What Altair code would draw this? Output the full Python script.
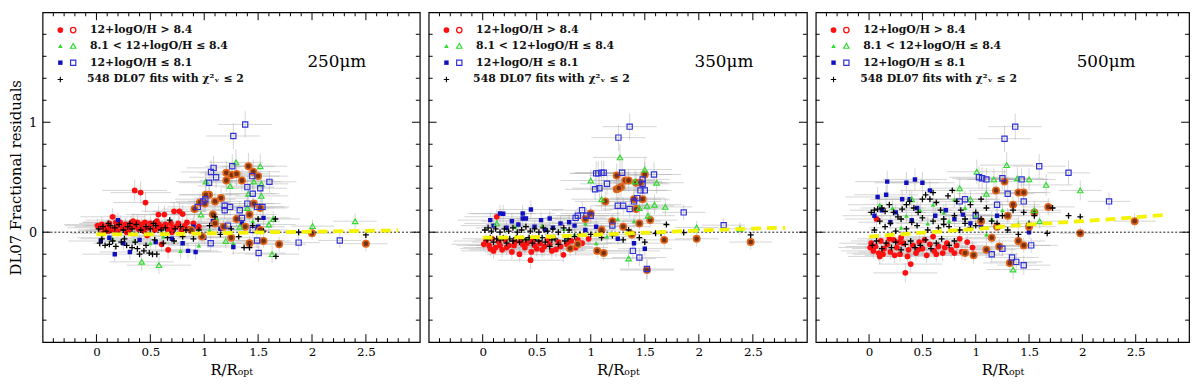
import altair as alt
import pandas as pd
import numpy as np

# ---------------- axis / text content ----------------
X_DOMAIN = [-0.5, 3.0]
Y_DOMAIN = [-1.0, 2.0]
X_LABELS = [0, 0.5, 1, 1.5, 2, 2.5]
Y_LABELS = [0, 1]
PANEL_TITLES = ["250\u03bcm", "350\u03bcm", "500\u03bcm"]
LEGEND_TEXT = ["12+logO/H > 8.4",
               "8.1 < 12+logO/H \u2264  8.4",
               "12+logO/H \u2264  8.1",
               "548  DL07 fits with \u03c7\u00b2\u1d65 \u2264 2"]
X_TITLE = "R/R\u2092\u209a\u209c"
Y_TITLE = "DL07  Fractional  residuals"

# running trend (yellow dashed)
FIT_X = [0.0, 0.5, 1.0, 1.5, 2.0, 2.5, 2.8]
P1_FIT = [-0.02, -0.02, -0.012, -0.002, 0.005, 0.012, 0.016]
P2_FIT = [-0.05, -0.045, -0.025, -0.005, 0.015, 0.033, 0.04]
P3_FIT = [-0.04, -0.005, 0.03, 0.07, 0.10, 0.135, 0.16]

# ---------------- panel 1 : 250 micron  (x, y, xerr, yerr) ----------------
P1_RED_F = [(0.03,0.04,.30,.06),(0.05,0.07,.35,.07),(0.08,0.02,.25,.05),(0.10,0.05,.30,.06),(0.12,0.08,.28,.07),
            (0.15,0.14,.30,.08),(0.16,0.03,.22,.05),(0.19,0.06,.30,.06),(0.22,0.09,.35,.07),(0.24,0.04,.20,.05),
            (0.27,0.07,.30,.06),(0.30,0.02,.25,.05),(0.32,0.08,.30,.07),(0.355,0.38,.30,.10),(0.41,0.36,.28,.10),
            (0.455,0.27,.30,.09),(0.36,0.05,.25,.06),(0.39,0.03,.30,.05),(0.42,0.07,.28,.06),(0.45,0.09,.25,.07),
            (0.48,0.04,.30,.05),(0.51,0.06,.25,.06),(0.54,0.02,.30,.05),(0.575,0.16,.30,.08),(0.58,0.07,.28,.06),
            (0.61,0.05,.25,.06),(0.63,0.16,.30,.08),(0.66,0.03,.30,.05),(0.69,0.08,.25,.07),(0.72,0.19,.30,.08),
            (0.74,0.05,.28,.06),(0.77,0.19,.25,.08),(0.80,0.165,.30,.08),(0.82,0.06,.25,.06),(0.665,-0.16,.25,.08),
            (0.605,-0.11,.25,.07),(0.20,0.01,.30,.05),(0.28,0.00,.25,.05),(0.44,0.01,.30,.05),(0.70,0.00,.25,.05),
            (0.86,0.03,.30,.06),(0.90,0.08,.28,.07),(0.95,0.05,.30,.06),(0.06,-0.01,.30,.05),(0.14,0.02,.25,.05),
            (0.34,0.10,.28,.07),(0.56,0.10,.30,.07),(0.47,-0.03,.25,.05),(0.01,0.06,.30,.06),(0.11,0.01,.28,.05),
            (0.18,0.09,.30,.07),(0.26,0.05,.28,.06),(0.31,0.06,.30,.06),(0.38,0.09,.28,.07),(0.43,0.04,.30,.06),
            (0.50,0.08,.28,.07),(0.57,0.04,.30,.06),(0.64,0.07,.28,.06),(0.71,0.04,.30,.06),(0.76,0.08,.28,.07),
            (0.79,0.02,.30,.05),(0.84,0.09,.28,.07)]
P1_RED_O = [(1.41,0.60,.25,.12),(1.205,0.54,.25,.11),(1.256,0.52,.25,.11),(1.30,0.53,.30,.11),(1.455,0.55,.25,.11),
            (1.50,0.51,.28,.11),(1.205,0.47,.25,.10),(1.35,0.47,.30,.10),(1.045,0.34,.28,.09),(1.015,0.34,.25,.09),
            (1.156,0.31,.25,.09),(0.96,0.27,.28,.08),(1.10,0.28,.25,.08),(1.005,0.26,.25,.08),(0.91,0.21,.30,.08),
            (1.46,0.26,.25,.09),(1.52,0.22,.25,.08),(1.08,0.16,.28,.07),(1.42,0.16,.25,.07),(1.695,-0.11,.25,.07),
            (2.00,-0.01,.20,.06),(2.50,-0.105,.20,.07),(1.42,-0.10,.25,.07),(1.30,0.12,.28,.07),(1.18,0.05,.25,.06),
            (1.52,0.02,.25,.06),(1.25,-0.05,.30,.06),(1.10,0.08,.25,.06),(0.98,-0.04,.28,.06),(1.38,0.05,.25,.06),
            (1.55,-0.08,.25,.06),(0.88,0.02,.30,.06)]
P1_GRN_F = [(0.78,-0.17,.28,.07),(1.12,0.12,.25,.06),(1.45,0.10,.25,.06),(0.35,-0.08,.30,.06),(0.95,-0.12,.28,.06),
            (1.27,-0.10,.25,.06),(0.62,-0.04,.30,.05),(1.05,0.02,.25,.05),(0.15,-0.06,.30,.05),(0.50,-0.10,.28,.06)]
P1_GRN_O = [(1.295,0.635,.25,.12),(1.52,0.60,.25,.11),(1.015,0.46,.28,.10),(1.46,0.46,.25,.10),(1.24,0.42,.30,.10),
            (1.53,0.44,.25,.10),(1.41,0.35,.25,.09),(1.53,0.33,.25,.09),(0.97,0.16,.28,.07),(1.40,0.22,.25,.08),
            (1.60,0.07,.25,.07),(1.64,0.12,.25,.07),(1.63,-0.20,.25,.08),(2.005,0.055,.20,.06),(2.40,0.10,.20,.07),
            (0.42,-0.27,.30,.08),(0.58,-0.30,.30,.08),(1.20,-0.08,.25,.06),(1.33,0.05,.28,.06)]
P1_BLU_F = [(0.04,-0.08,.30,.06),(0.17,-0.20,.30,.07),(0.31,-0.18,.28,.07),(0.20,0.11,.30,.07),(0.85,-0.17,.28,.07),
            (0.92,-0.18,.25,.07),(1.27,-0.135,.25,.07),(0.12,-0.05,.30,.06),(0.25,-0.10,.28,.06),(0.40,-0.07,.30,.06),
            (0.55,-0.09,.28,.06),(0.70,-0.06,.30,.06),(0.80,-0.10,.28,.06),(1.00,-0.05,.25,.06),(1.15,0.03,.25,.06),
            (1.35,0.08,.25,.06),(1.50,0.05,.25,.06),(1.55,0.13,.25,.07),(0.90,0.05,.28,.06),(1.08,0.10,.25,.06)]
P1_BLU_O = [(1.38,0.98,.25,.12),(1.27,0.875,.25,.12),(1.26,0.60,.25,.11),(1.087,0.585,.25,.11),(1.063,0.548,.28,.11),
            (1.446,0.51,.25,.11),(1.11,0.50,.25,.10),(1.605,0.458,.25,.10),(1.045,0.45,.28,.10),(1.40,0.41,.25,.10),
            (1.52,0.40,.25,.10),(1.45,0.35,.25,.09),(1.01,0.30,.28,.09),(0.99,0.28,.25,.09),(1.19,0.24,.25,.08),
            (0.94,0.23,.28,.08),(1.24,0.23,.25,.08),(1.40,0.26,.25,.08),(1.54,0.23,.25,.08),(1.49,0.23,.25,.08),
            (1.19,0.20,.25,.08),(1.33,0.20,.25,.08),(1.35,0.13,.25,.07),(1.876,-0.095,.20,.07),(2.258,-0.075,.20,.07),
            (1.505,-0.19,.25,.08),(1.49,-0.075,.25,.07),(1.06,-0.10,.28,.07),(1.22,0.06,.25,.06),(1.45,0.02,.25,.06)]
P1_CROSS = [(0.02,0.03),(0.06,0.05),(0.09,0.01),(0.13,0.06),(0.17,0.04),(0.21,0.07),(0.25,0.02),(0.29,0.05),
            (0.33,0.03),(0.37,0.07),(0.41,0.02),(0.46,0.05),(0.50,0.03),(0.55,0.06),(0.60,0.02),(0.64,0.04),
            (0.68,0.11),(0.73,0.03),(0.78,0.05),(0.83,0.02),(0.03,-0.10),(0.08,-0.12),(0.12,-0.11),(0.18,-0.13),
            (0.23,-0.09),(0.28,-0.12),(0.33,-0.14),(0.38,-0.15),(0.40,-0.20),(0.44,-0.17),(0.49,-0.19),(0.52,-0.20),
            (0.56,-0.20),(0.46,-0.12),(0.62,-0.10),(0.72,-0.08),(1.37,-0.14),(1.42,-0.14),(1.66,0.12),(1.665,-0.22),
            (1.876,0.0),(2.50,-0.025),(0.95,0.02),(1.05,0.06),(1.15,-0.02),(1.25,0.03),(1.32,-0.04),(1.45,0.06),
            (1.55,0.01),(0.90,-0.06),(1.10,0.14),(1.50,0.12),(0.05,-0.06),(0.15,-0.08),(0.26,-0.06),(0.36,-0.09),
            (0.54,-0.07),(0.66,-0.05),(0.80,-0.04),(0.11,0.08),(0.31,0.08),(0.53,0.08)]

# ---------------- panel 2 : 350 micron ----------------
P2_RED_F = [(0.03,-0.08,.30,.06),(0.06,-0.12,.30,.06),(0.09,-0.06,.28,.06),(0.12,-0.14,.30,.07),(0.15,-0.09,.25,.06),
            (0.18,-0.16,.30,.07),(0.21,-0.07,.28,.06),(0.24,-0.12,.30,.06),(0.27,-0.18,.25,.07),(0.30,-0.09,.30,.06),
            (0.34,-0.20,.30,.07),(0.37,-0.11,.28,.06),(0.39,-0.14,.30,.07),(0.443,-0.255,.30,.08),(0.46,-0.08,.28,.06),
            (0.50,-0.15,.30,.07),(0.53,-0.10,.25,.06),(0.57,-0.13,.30,.07),(0.60,-0.07,.28,.06),(0.64,-0.17,.30,.07),
            (0.678,-0.157,.28,.07),(0.70,-0.09,.30,.06),(0.747,-0.206,.28,.07),(0.78,-0.11,.30,.06),(0.82,-0.08,.28,.06),
            (0.86,-0.14,.30,.07),(0.92,-0.10,.28,.06),(0.98,-0.06,.25,.06),(0.10,-0.17,.30,.07),(0.45,-0.18,.28,.07),
            (0.13,0.14,.30,.07),(0.01,-0.11,.30,.06),(0.07,-0.15,.28,.07),(0.16,-0.12,.30,.06),(0.22,-0.14,.28,.07),
            (0.29,-0.12,.30,.06),(0.35,-0.08,.28,.06),(0.41,-0.10,.30,.06),(0.48,-0.12,.28,.06),(0.55,-0.16,.30,.07),
            (0.62,-0.11,.28,.06),(0.72,-0.13,.30,.07),(0.88,-0.07,.28,.06)]
P2_RED_O = [(1.24,0.515,.25,.11),(1.50,0.525,.25,.11),(1.32,0.47,.25,.10),(1.35,0.47,.25,.10),(1.24,0.39,.25,.10),
            (1.28,0.41,.25,.10),(1.26,0.40,.25,.10),(1.42,0.45,.25,.10),(1.46,0.45,.25,.10),(1.135,0.28,.28,.09),
            (1.40,0.30,.25,.09),(1.48,0.30,.25,.09),(1.42,0.21,.25,.08),(0.81,-0.148,.28,.07),(0.88,-0.11,.28,.07),
            (1.06,-0.17,.28,.07),(1.12,-0.19,.28,.07),(1.52,-0.345,.25,.09),(1.98,-0.06,.20,.07),(2.48,-0.09,.20,.07),
            (1.68,-0.07,.25,.07),(1.00,0.17,.28,.07),(0.95,0.12,.28,.07),(1.20,0.10,.25,.06),(1.30,0.05,.25,.06),
            (1.45,0.08,.25,.06),(1.10,0.02,.28,.06),(1.55,0.11,.25,.07),(1.38,-0.02,.25,.06)]
P2_GRN_F = [(0.55,0.06,.30,.06),(0.75,0.03,.28,.06),(0.95,0.08,.28,.06),(1.15,-0.04,.25,.06),(0.30,0.05,.30,.06),
            (1.25,0.12,.25,.06),(0.42,-0.05,.28,.05),(1.05,-0.10,.28,.06),(1.40,0.10,.25,.06),(0.85,-0.02,.28,.05)]
P2_GRN_O = [(1.27,0.68,.25,.12),(1.00,0.47,.28,.10),(1.50,0.57,.25,.11),(1.61,0.45,.25,.10),(1.41,0.46,.25,.10),
            (1.59,0.25,.25,.09),(1.69,0.23,.25,.08),(1.52,0.24,.25,.08),(1.45,0.22,.25,.08),(1.53,0.15,.25,.07),
            (1.98,0.043,.20,.06),(2.38,0.03,.20,.06),(1.35,-0.24,.25,.08),(0.13,0.08,.30,.06),(1.10,0.30,.28,.09)]
P2_BLU_F = [(0.446,0.206,.30,.08),(0.37,0.17,.30,.08),(0.19,0.168,.30,.08),(0.16,0.17,.30,.08),(0.07,0.11,.30,.07),
            (0.27,0.10,.28,.07),(0.37,0.125,.28,.07),(0.40,0.125,.30,.07),(0.62,0.125,.28,.07),(0.54,0.11,.30,.07),
            (0.72,0.08,.28,.07),(0.80,0.09,.28,.07),(0.10,0.06,.30,.06),(0.22,0.04,.28,.06),(0.33,0.07,.30,.06),
            (0.48,0.05,.28,.06),(0.65,0.04,.30,.06),(0.85,0.06,.28,.06),(0.95,0.02,.28,.06),(1.05,0.05,.25,.06),
            (1.25,-0.06,.25,.06),(1.40,-0.10,.25,.06),(1.50,-0.15,.25,.07),(0.58,0.02,.28,.05)]
P2_BLU_O = [(1.36,0.96,.25,.12),(1.256,0.86,.25,.12),(1.05,0.535,.25,.11),(1.07,0.535,.25,.11),(1.10,0.54,.25,.11),
            (1.12,0.54,.25,.11),(1.29,0.54,.25,.11),(1.585,0.525,.25,.11),(1.04,0.39,.28,.10),(1.15,0.44,.25,.10),
            (1.08,0.40,.25,.10),(1.48,0.48,.25,.10),(1.48,0.44,.25,.10),(1.50,0.38,.25,.10),(1.46,0.38,.25,.10),
            (1.43,0.31,.25,.09),(1.40,0.28,.25,.09),(1.36,0.21,.25,.08),(1.30,0.24,.25,.08),(1.25,0.24,.25,.08),
            (0.92,0.20,.28,.08),(0.88,0.15,.28,.07),(0.86,0.13,.28,.07),(0.96,0.15,.28,.07),(1.00,0.15,.28,.07),
            (1.86,0.18,.20,.07),(2.23,0.064,.20,.06),(1.39,-0.17,.25,.07),(1.45,-0.23,.25,.08),(1.52,-0.335,.25,.09),
            (1.20,0.06,.25,.06)]
P2_CROSS = [(0.02,0.02),(0.05,0.04),(0.08,0.01),(0.12,0.03),(0.16,0.00),(0.20,0.03),(0.24,0.01),(0.28,0.04),
            (0.32,0.00),(0.36,0.02),(0.40,0.05),(0.44,0.01),(0.48,0.03),(0.52,0.00),(0.56,0.04),(0.60,0.01),
            (0.65,0.03),(0.70,0.00),(0.75,0.04),(0.80,0.02),(0.85,-0.04),(0.90,-0.02),(0.04,-0.07),(0.10,-0.09),
            (0.16,-0.07),(0.22,-0.10),(0.28,-0.08),(0.34,-0.09),(0.40,-0.07),(0.46,-0.10),(0.52,-0.08),(0.58,-0.09),
            (0.64,-0.07),(0.70,-0.11),(0.76,-0.08),(0.62,-0.13),(1.70,0.07),(1.86,-0.003),(2.48,-0.025),(1.60,-0.01),
            (1.65,-0.01),(1.10,-0.05),(1.20,-0.03),(1.30,-0.07),(1.45,-0.05),(1.50,-0.09),(1.00,-0.02),(1.35,0.02),
            (0.07,-0.05),(0.13,-0.06),(0.19,-0.05),(0.25,-0.06),(0.31,-0.05),(0.37,-0.06),(0.43,-0.05),(0.49,-0.06),
            (0.55,-0.05),(0.67,-0.06),(0.79,-0.06)]

# ---------------- panel 3 : 500 micron ----------------
P3_RED_F = [(0.02,-0.10,.30,.06),(0.04,-0.17,.30,.07),(0.06,-0.13,.28,.06),(0.09,-0.19,.30,.07),(0.11,-0.08,.28,.06),
            (0.14,-0.15,.30,.07),(0.17,-0.11,.28,.06),(0.20,-0.18,.30,.07),(0.23,-0.07,.25,.06),(0.26,-0.14,.30,.07),
            (0.29,-0.20,.28,.07),(0.32,-0.10,.30,.06),(0.34,-0.37,.30,.09),(0.39,-0.29,.30,.08),(0.37,-0.16,.28,.07),
            (0.41,-0.12,.30,.06),(0.44,-0.19,.28,.07),(0.47,-0.09,.30,.06),(0.50,-0.15,.28,.07),(0.54,-0.21,.30,.07),
            (0.57,-0.11,.28,.06),(0.61,-0.17,.30,.07),(0.65,-0.13,.28,.06),(0.69,-0.19,.30,.07),(0.73,-0.10,.28,.06),
            (0.77,-0.16,.30,.07),(0.82,-0.12,.28,.06),(0.87,-0.18,.30,.07),(0.92,-0.09,.28,.06),(0.97,-0.14,.28,.06),
            (0.07,0.12,.30,.07),(0.10,-0.22,.30,.07),(0.30,-0.05,.30,.06),(0.60,-0.04,.28,.06),(0.85,-0.06,.28,.06),
            (0.01,-0.14,.30,.06),(0.13,-0.20,.28,.07),(0.19,-0.06,.30,.06),(0.24,-0.21,.28,.07),(0.28,-0.09,.30,.06),
            (0.36,-0.22,.28,.07),(0.46,-0.16,.30,.07),(0.52,-0.07,.28,.06),(0.63,-0.20,.30,.07),(0.71,-0.14,.28,.06),
            (0.80,-0.19,.30,.07)]
P3_RED_O = [(1.27,0.46,.25,.11),(1.19,0.38,.25,.10),(1.68,0.23,.25,.08),(1.40,0.36,.25,.10),(1.45,0.36,.25,.10),
            (1.32,-0.28,.25,.08),(0.98,-0.21,.28,.08),(1.98,-0.01,.20,.06),(2.49,0.10,.20,.07),(1.10,-0.16,.28,.07),
            (1.22,-0.13,.25,.07),(1.05,0.10,.28,.06),(1.30,0.15,.25,.07),(1.50,0.05,.25,.06),(1.15,-0.05,.25,.06),
            (1.40,-0.08,.25,.06),(0.90,-0.19,.28,.07),(1.55,0.18,.25,.07),(1.35,0.25,.25,.08),(1.20,0.05,.25,.06),
            (1.45,-0.12,.25,.07)]
P3_GRN_F = [(0.10,0.25,.30,.07),(0.22,0.22,.30,.07),(0.35,0.15,.28,.07),(0.48,0.20,.30,.07),(0.60,0.25,.28,.07),
            (0.70,0.18,.28,.07),(0.80,0.30,.28,.08),(0.90,0.22,.28,.07),(1.00,0.15,.28,.07),(1.15,0.12,.25,.07),
            (1.25,0.20,.25,.07),(1.40,0.08,.25,.06),(0.55,0.08,.30,.06),(0.30,0.04,.30,.06),(0.75,0.10,.28,.06),
            (1.10,-0.02,.25,.06)]
P3_GRN_O = [(1.29,0.61,.25,.12),(1.01,0.55,.28,.11),(1.17,0.48,.25,.10),(1.39,0.49,.25,.10),(1.50,0.48,.25,.10),
            (1.66,0.43,.25,.10),(1.98,0.38,.20,.09),(1.35,-0.34,.25,.09),(0.85,0.40,.28,.09),(0.95,0.30,.28,.08),
            (0.40,0.30,.30,.08),(1.10,0.35,.28,.09),(1.55,0.20,.25,.08),(1.60,0.10,.25,.07)]
P3_BLU_F = [(0.17,0.46,.30,.10),(0.35,0.45,.30,.10),(0.43,0.48,.30,.10),(0.50,0.45,.30,.10),(0.08,0.32,.30,.09),
            (0.16,0.34,.30,.09),(0.57,0.38,.28,.09),(0.31,0.30,.30,.08),(0.38,0.30,.30,.08),(0.05,0.15,.30,.07),
            (0.12,0.20,.30,.07),(0.25,0.18,.28,.07),(0.45,0.22,.30,.07),(0.62,0.15,.28,.07),(0.72,0.20,.28,.07),
            (0.80,0.12,.28,.07),(0.88,0.16,.28,.07),(0.95,0.08,.28,.06),(1.05,0.05,.25,.06),(0.20,0.09,.30,.06),
            (0.40,0.11,.30,.06),(1.20,0.15,.25,.07),(1.50,0.00,.25,.06)]
P3_BLU_O = [(1.37,0.96,.25,.12),(1.27,0.85,.25,.12),(1.595,0.60,.25,.11),(1.87,0.54,.20,.11),(1.03,0.50,.28,.10),
            (1.06,0.49,.28,.10),(1.10,0.48,.28,.10),(1.43,0.48,.25,.10),(1.25,0.49,.25,.10),(2.25,0.28,.20,.08),
            (1.38,-0.27,.25,.08),(1.45,-0.30,.25,.09),(1.34,-0.23,.25,.08),(0.85,0.28,.28,.08),(0.90,0.30,.28,.08),
            (1.30,0.35,.25,.09),(1.45,0.28,.25,.08),(1.20,0.25,.25,.08),(1.00,0.15,.28,.07),(1.15,-0.20,.25,.07),
            (1.25,-0.15,.25,.07),(1.52,-0.12,.25,.07)]
P3_CROSS = [(0.02,0.18),(0.05,0.20),(0.08,0.21),(0.12,0.22),(0.15,0.19),(0.19,0.25),(0.23,0.18),(0.27,0.14),
            (0.31,0.21),(0.35,0.25),(0.38,0.28),(0.42,0.22),(0.46,0.18),(0.50,0.30),(0.53,0.34),(0.57,0.30),
            (0.60,0.36),(0.63,0.27),(0.67,0.20),(0.70,0.12),(0.74,0.33),(0.78,0.38),(0.82,0.28),(0.86,0.20),
            (0.90,0.12),(0.95,0.25),(1.00,0.18),(1.05,0.30),(1.10,0.22),(1.15,0.10),(1.25,0.15),(1.35,0.20),
            (1.45,0.18),(1.55,0.15),(1.67,-0.01),(1.87,0.15),(1.98,0.14),(1.72,0.22),(0.03,-0.12),(0.07,-0.08),
            (0.12,-0.15),(0.16,-0.10),(0.21,-0.14),(0.25,-0.09),(0.30,-0.16),(0.34,-0.11),(0.39,-0.08),(0.43,-0.14),
            (0.48,-0.12),(0.53,-0.07),(0.58,-0.15),(0.63,-0.10),(0.68,-0.06),(0.75,-0.12),(0.80,-0.08),(0.05,0.02),
            (0.15,0.05),(0.25,0.01),(0.35,0.03),(0.45,0.06),(0.55,0.02),(0.65,0.04),(0.75,0.05),(0.85,0.02),
            (0.95,0.04),(1.05,0.12),(1.20,0.08),(1.30,0.02),(1.40,-0.02),(1.50,0.08),(0.10,0.10),(0.20,0.08),
            (0.30,0.12),(0.40,0.09),(0.50,0.13),(0.60,0.10),(0.70,0.07),(0.80,0.15),(0.90,0.08),(1.00,0.06)]

PANELS = [
    dict(red_f=P1_RED_F, red_o=P1_RED_O, grn_f=P1_GRN_F, grn_o=P1_GRN_O, blu_f=P1_BLU_F, blu_o=P1_BLU_O,
         cross=P1_CROSS, fit=P1_FIT),
    dict(red_f=P2_RED_F, red_o=P2_RED_O, grn_f=P2_GRN_F, grn_o=P2_GRN_O, blu_f=P2_BLU_F, blu_o=P2_BLU_O,
         cross=P2_CROSS, fit=P2_FIT),
    dict(red_f=P3_RED_F, red_o=P3_RED_O, grn_f=P3_GRN_F, grn_o=P3_GRN_O, blu_f=P3_BLU_F, blu_o=P3_BLU_O,
         cross=P3_CROSS, fit=P3_FIT),
]

# ---------------- styling ----------------
SERIF = "DejaVu Serif"
H = 334
WIDTHS = [382, 383, 378]
CROSS_PATH = "M-1,0L1,0M0,-1L0,1"
STYLE = {
    "red_f": dict(shape="circle", filled=True, color="#ff1010", size=34),
    "red_o": dict(shape="circle", filled=True, fill="#7a3214", stroke="#e2661c", strokeWidth=1.6, size=42),
    "grn_f": dict(shape="triangle-up", filled=True, color="#2fdc2f", size=22),
    "grn_o": dict(shape="triangle-up", filled=False, color="#2fdc2f", strokeWidth=1.2, size=30),
    "blu_f": dict(shape="square", filled=True, color="#1010c0", size=20),
    "blu_o": dict(shape="square", filled=False, color="#3030d8", strokeWidth=1.2, size=28),
}
ORDER = ["red_f", "grn_f", "blu_f", "red_o", "grn_o", "blu_o"]

xs = alt.Scale(domain=X_DOMAIN, nice=False, zero=False)
ys = alt.Scale(domain=Y_DOMAIN, nice=False, zero=False)


def pts(rows):
    return pd.DataFrame(rows, columns=["x", "y", "xe", "ye"])


def make_panel(k):
    P = PANELS[k]
    W = WIDTHS[k]
    show_y = (k == 0)
    xaxis = alt.Axis(values=X_LABELS, format="~g", title=X_TITLE, labelPadding=5, titlePadding=5,
                     labelFontSize=12, titleFontSize=15)
    yaxis = alt.Axis(values=Y_LABELS, format="~g", title=Y_TITLE, labelPadding=6, titlePadding=5,
                     labelFontSize=13, titleFontSize=15) if show_y else None

    def X(f, **kw):
        return alt.X(f, scale=xs, axis=xaxis, **kw)

    def Y(f, **kw):
        return alt.Y(f, scale=ys, axis=yaxis, **kw)

    allpts = pd.concat([pts(P[c]) for c in ORDER], ignore_index=True)
    err = alt.Chart(allpts).transform_calculate(
        xl="datum.x - datum.xe", xh="datum.x + datum.xe",
        yl="datum.y - datum.ye", yh="datum.y + datum.ye")
    hbar = err.mark_rule(color="#a9a9a9", strokeWidth=0.7, opacity=0.7, clip=True).encode(
        x=X("xl:Q"), x2="xh:Q", y=Y("y:Q"))
    vbar = err.mark_rule(color="#a9a9a9", strokeWidth=0.7, opacity=0.7, clip=True).encode(
        x=X("x:Q"), y=Y("yl:Q"), y2="yh:Q")

    layers = [hbar, vbar]
    for c in ORDER:
        layers.append(alt.Chart(pts(P[c])).mark_point(opacity=1, clip=True, **STYLE[c]).encode(
            x=X("x:Q"), y=Y("y:Q")))
    cross = pd.DataFrame(P["cross"], columns=["x", "y"])
    layers.append(alt.Chart(cross).mark_point(shape=CROSS_PATH, filled=False, color="black", strokeWidth=1.3,
                                              size=36, opacity=1, clip=True).encode(x=X("x:Q"), y=Y("y:Q")))
    zero = pd.DataFrame({"x": [X_DOMAIN[0], X_DOMAIN[1]], "y": [0, 0]})
    layers.append(alt.Chart(zero).mark_line(color="black", strokeDash=[2, 2], strokeWidth=0.9).encode(
        x=X("x:Q"), y=Y("y:Q")))
    fit = pd.DataFrame({"x": FIT_X, "y": P["fit"]})
    layers.append(alt.Chart(fit).mark_line(color="#f4f400", strokeDash=[10, 6], strokeWidth=3.8).encode(
        x=X("x:Q"), y=Y("y:Q")))

    # inward ticks on all four sides
    xmaj = pd.DataFrame({"v": X_LABELS})
    xmin = pd.DataFrame({"v": [v for v in np.round(np.arange(-0.4, 3.0, 0.1), 2)
                               if not any(abs(v - m) < 1e-6 for m in X_LABELS)]})
    ymaj = pd.DataFrame({"v": Y_LABELS})
    ymin = pd.DataFrame({"v": [v for v in np.round(np.arange(-0.8, 2.0, 0.2), 2)
                               if not any(abs(v - m) < 1e-6 for m in Y_LABELS)]})
    for df, ln in ((xmaj, 8), (xmin, 4)):
        base = alt.Chart(df).mark_rule(color="black", strokeWidth=1)
        layers.append(base.encode(x=X("v:Q"), y=alt.value(H), y2=alt.value(H - ln)))
        layers.append(base.encode(x=X("v:Q"), y=alt.value(0), y2=alt.value(ln)))
    for df, ln in ((ymaj, 8), (ymin, 4)):
        base = alt.Chart(df).mark_rule(color="black", strokeWidth=1)
        layers.append(base.encode(y=Y("v:Q"), x=alt.value(0), x2=alt.value(ln)))
        layers.append(base.encode(y=Y("v:Q"), x=alt.value(W), x2=alt.value(W - ln)))

    # legend
    one = pd.DataFrame({"a": [0]})
    rows_y = [18, 34, 51, 68]
    pairs = [("red_f", "red_o"), ("grn_f", "grn_o"), ("blu_f", "blu_o")]
    for i, (f, o) in enumerate(pairs):
        so = dict(STYLE[o])
        if o == "red_o":
            so = dict(shape="circle", filled=False, color="#ff1010", strokeWidth=1.3, size=30)
        layers.append(alt.Chart(one).mark_point(opacity=1, **STYLE[f]).encode(
            x=alt.value(18), y=alt.value(rows_y[i])))
        layers.append(alt.Chart(one).mark_point(opacity=1, **so).encode(
            x=alt.value(31), y=alt.value(rows_y[i])))
    layers.append(alt.Chart(one).mark_point(shape=CROSS_PATH, filled=False, color="black", strokeWidth=1.1,
                                            size=30, opacity=1).encode(x=alt.value(18), y=alt.value(rows_y[3])))
    for i, t in enumerate(LEGEND_TEXT):
        layers.append(alt.Chart(one).mark_text(font=SERIF, fontSize=11, fontWeight="bold", align="left",
                                               baseline="middle", color="#111111").encode(
            x=alt.value(45 if i == 3 else 48), y=alt.value(rows_y[i]), text=alt.value(t)))
    layers.append(alt.Chart(one).mark_text(font=SERIF, fontSize=17, align="center", baseline="middle",
                                           color="black").encode(
        x=alt.value(W - 84), y=alt.value(50), text=alt.value(PANEL_TITLES[k])))
    return alt.layer(*layers).properties(width=W, height=H)


chart = alt.hconcat(*[make_panel(k) for k in range(3)], spacing=3).properties(
    padding={"left": 0, "top": 0, "right": 0, "bottom": 0}
).configure_view(stroke="black", strokeWidth=1.2).configure_axis(
    grid=False, ticks=False, domain=False, labelFont=SERIF, titleFont=SERIF,
    labelColor="black", titleColor="black", titleFontWeight="normal")

chart.save("out.html", embed_options={"renderer": "svg", "actions": False})
